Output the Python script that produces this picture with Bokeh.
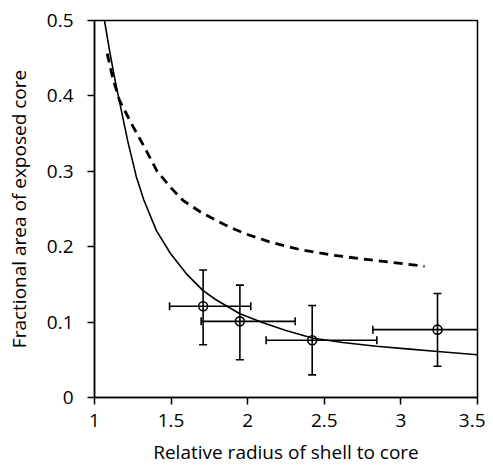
import numpy as np
from bokeh.plotting import figure
from bokeh.models import FixedTicker, Range1d
from bokeh.embed import file_html
from bokeh.resources import INLINE

# Measured points
pt_x = [1.709, 1.949, 2.421, 3.239]
pt_y = [0.121, 0.101, 0.076, 0.090]
x_lo = [1.49, 1.696, 2.12, 2.817]
x_hi = [2.02, 2.31, 2.843, 3.66]
y_lo = [0.070, 0.050, 0.030, 0.0415]
y_hi = [0.169, 0.149, 0.122, 0.138]

# Solid model curve
solid_x = [1.065, 1.10, 1.135, 1.217, 1.274, 1.322, 1.405, 1.496, 1.60, 1.707,
           1.79, 1.949, 2.10, 2.25, 2.42, 2.62, 2.84, 3.04, 3.24, 3.5]
solid_y = [0.500, 0.458, 0.420, 0.340, 0.292, 0.262, 0.221, 0.191, 0.164, 0.142,
           0.130, 0.111, 0.099, 0.089, 0.079, 0.073, 0.068, 0.0645, 0.061, 0.0566]

# Dashed model curve
dash_x = [1.083, 1.12, 1.163, 1.25, 1.326, 1.409, 1.5, 1.58, 1.692, 1.85,
          1.986, 2.15, 2.345, 2.55, 2.736, 2.95, 3.154]
dash_y = [0.456, 0.423, 0.394, 0.360, 0.332, 0.300, 0.278, 0.261, 0.246, 0.229,
          0.217, 0.206, 0.196, 0.189, 0.184, 0.179, 0.174]

x_ticks = [1, 1.5, 2, 2.5, 3, 3.5]
x_tick_labels = ["1", "1.5", "2", "2.5", "3", "3.5"]
y_ticks = [0, 0.1, 0.2, 0.3, 0.4, 0.5]
y_tick_labels = ["0", "0.1", "0.2", "0.3", "0.4", "0.5"]
x_title = "Relative radius of shell to core"
y_title = "Fractional area of exposed core"

FONT = "Open Sans"

p = figure(width=485, height=468, output_backend="svg", toolbar_location=None,
           x_range=Range1d(1, 3.5), y_range=Range1d(0, 0.5),
           min_border_left=94, min_border_right=8, min_border_top=20,
           min_border_bottom=71)
p.background_fill_color = "white"
p.border_fill_color = "white"
p.outline_line_color = "black"
p.outline_line_width = 1.5
p.xgrid.visible = False
p.ygrid.visible = False

for ax in (p.xaxis[0], p.yaxis[0]):
    ax.axis_line_color = "black"
    ax.axis_line_width = 1.5
    ax.major_tick_line_color = "black"
    ax.major_tick_line_width = 1.5
    ax.major_tick_in = 0
    ax.major_tick_out = 7
    ax.minor_tick_line_color = None
    ax.major_label_text_font = FONT
    ax.major_label_text_font_size = "19px"
    ax.major_label_text_color = "black"
    ax.axis_label_text_font = FONT
    ax.axis_label_text_font_size = "19px"
    ax.axis_label_text_font_style = "normal"
    ax.axis_label_text_color = "black"

p.xaxis.ticker = FixedTicker(ticks=x_ticks)
p.xaxis.major_label_overrides = {t: l for t, l in zip(x_ticks, x_tick_labels)}
p.yaxis.ticker = FixedTicker(ticks=y_ticks)
p.yaxis.major_label_overrides = {t: l for t, l in zip(y_ticks, y_tick_labels)}
p.xaxis.major_label_standoff = 9
p.yaxis.major_label_standoff = 14
p.xaxis.axis_label = x_title
p.xaxis.axis_label_standoff = 9
p.yaxis.axis_label = y_title
p.yaxis.axis_label_standoff = 12

# curves
p.line(solid_x, solid_y, line_color="black", line_width=1.6)
p.line(dash_x, dash_y, line_color="black", line_width=2.8, line_dash="9 6")

# error bars
p.segment(x0=pt_x, y0=y_lo, x1=pt_x, y1=y_hi, line_color="black", line_width=1.6)
p.segment(x0=x_lo, y0=pt_y, x1=x_hi, y1=pt_y, line_color="black", line_width=1.6)
p.dash(x=pt_x + pt_x, y=y_lo + y_hi, size=8, line_color="black", line_width=1.6)
p.dash(x=x_lo + x_hi, y=pt_y + pt_y, size=8, angle=np.pi / 2,
       line_color="black", line_width=1.6)
p.scatter(pt_x, pt_y, marker="circle", size=9, fill_color=None,
          line_color="black", line_width=1.6)

open("out.html", "w").write(file_html(p, INLINE))
